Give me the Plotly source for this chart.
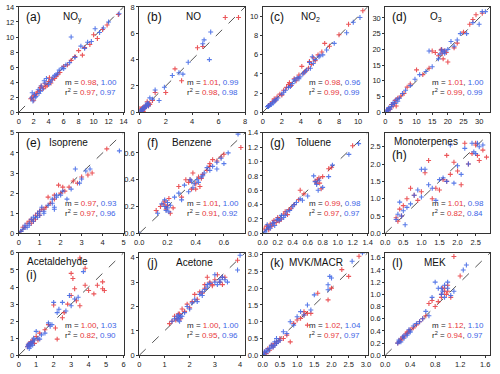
import plotly.graph_objects as go
from plotly.subplots import make_subplots

# panel names, labels, and fit stats
labels = ["(a)", "(b)", "(c)", "(d)", "(e)", "(f)", "(g)", "(h)", "(i)", "(j)", "(k)", "(l)"]
species = ["NO<sub>y</sub>", "NO", "NO<sub>2</sub>", "O<sub>3</sub>", "Isoprene", "Benzene", "Toluene",
           "Monoterpenes", "Acetaldehyde", "Acetone", "MVK/MACR", "MEK"]
title_x = [0.4, 0.42, 0.35, 0.41, 0.27, 0.29, 0.3, 0.06, 0.06, 0.33, 0.23, 0.35]
slope_red = ["0.98", "1.01", "0.98", "1.01", "0.97", "1.01", "0.99", "1.01", "1.00", "1.00", "1.02", "1.12"]
slope_blue = ["1.00", "0.99", "0.96", "1.00", "0.93", "1.00", "0.98", "0.98", "1.03", "1.00", "1.04", "1.10"]
r2_red = ["0.97", "0.98", "0.99", "0.99", "0.97", "0.91", "0.97", "0.82", "0.82", "0.95", "0.97", "0.94"]
r2_blue = ["0.97", "0.98", "0.99", "0.99", "0.96", "0.92", "0.97", "0.84", "0.90", "0.96", "0.97", "0.97"]

# axis ranges and tick steps
ax_max = [14, 8, 11, 33.5, 5, 0.75, 1.4, 2.9, 6, 4.2, 3.05, 1.68]
x_dtick = [2, 2, 2, 5, 1, 0.2, 0.2, 0.5, 1, 1, 0.5, 0.4]
y_dtick = [2, 2, 2, 5, 1, 0.2, 0.2, 0.5, 1, 1, 0.5, 0.2]
tick_fmt = ["", "", "", "", "", ".1f", ".1f", ".1f", "", "", ".1f", ".1f"]

# (a) NOy
a_rx = [1.6, 1.8, 2.0, 2.2, 2.5, 2.8, 3.0, 3.3, 3.5, 3.8, 4.0, 4.3, 4.5, 5.0, 5.5, 6.0, 6.5, 7.0, 7.5, 8.0, 8.5, 8.8, 9.5, 10.0, 10.5, 11.2, 11.8, 13.3, 2.0, 2.4, 2.9, 3.6, 4.1, 4.8, 5.2]
a_ry = [1.8, 2.0, 1.6, 2.3, 2.7, 2.9, 3.5, 3.2, 3.8, 3.6, 4.1, 3.9, 4.4, 4.8, 5.3, 6.1, 6.3, 6.9, 7.4, 8.2, 7.6, 8.6, 9.0, 10.3, 9.8, 11.0, 11.6, 13.0, 2.2, 2.5, 3.3, 3.4, 4.6, 4.5, 5.0]
a_bx = [1.7, 1.9, 2.1, 2.3, 2.6, 2.9, 3.2, 3.4, 3.7, 4.0, 4.2, 4.6, 5.0, 5.4, 5.8, 6.3, 6.8, 7.0, 7.5, 8.3, 8.8, 9.2, 9.7, 10.2, 10.8, 11.3, 12.0, 13.4, 1.8, 2.2, 2.7, 3.0, 3.5, 4.4, 4.8, 5.2, 6.0]
a_by = [1.9, 1.5, 2.4, 2.1, 3.0, 2.8, 3.1, 4.2, 4.5, 3.7, 4.0, 4.7, 5.0, 5.6, 5.9, 6.3, 6.6, 10.0, 7.3, 8.8, 8.5, 9.3, 9.4, 11.1, 10.6, 11.2, 12.0, 13.1, 2.6, 2.0, 2.5, 3.5, 3.9, 4.3, 4.9, 5.2, 5.8]
# (b) NO
b_rx = [0.05, 0.1, 0.15, 0.2, 0.25, 0.3, 0.4, 0.5, 0.6, 0.7, 0.8, 1.0, 1.2, 2.0, 2.7, 3.2, 4.4, 4.8, 6.5, 7.5, 0.1, 0.2, 0.35, 0.5, 0.75, 0.3]
b_ry = [0.3, 0.2, 0.1, 0.25, 0.35, 0.2, 0.3, 0.4, 0.8, 0.5, 0.6, 0.9, 1.5, 1.5, 3.3, 2.4, 4.9, 5.0, 7.2, 7.2, 0.15, 0.3, 0.35, 0.55, 0.7, 0.05]
b_bx = [0.05, 0.1, 0.15, 0.2, 0.25, 0.3, 0.35, 0.4, 0.5, 0.6, 0.7, 0.8, 1.0, 1.2, 1.5, 1.9, 2.5, 3.0, 3.3, 3.7, 4.8, 4.9, 5.3, 5.4, 0.1, 0.15, 0.2, 0.3, 0.4, 0.45, 0.55, 0.6, 0.65, 0.7]
b_by = [0.05, 0.1, 0.15, 0.2, 0.25, 0.3, 0.4, 0.35, 0.5, 0.7, 0.5, 1.1, 1.0, 1.7, 0.9, 1.9, 2.8, 3.0, 2.9, 3.8, 5.2, 5.5, 4.0, 6.1, 0.12, 0.08, 0.15, 0.25, 0.3, 0.45, 0.45, 0.55, 0.6, 0.65]
# (c) NO2
c_rx = [0.6, 0.8, 1.0, 1.3, 1.5, 1.8, 2.2, 2.5, 2.8, 3.0, 3.3, 3.5, 3.8, 4.1, 4.5, 4.8, 5.1, 5.3, 5.8, 6.2, 6.5, 7.0, 8.0, 9.0, 10.5, 1.2, 2.0, 2.7, 3.7, 4.3, 4.9, 5.5]
c_ry = [0.7, 0.9, 1.1, 1.2, 1.6, 1.9, 2.3, 2.6, 3.1, 2.8, 3.5, 3.3, 3.9, 4.8, 4.3, 4.6, 5.0, 5.7, 6.0, 6.3, 7.2, 6.9, 8.1, 9.2, 10.6, 1.4, 1.8, 2.9, 3.6, 4.1, 5.3, 5.4]
c_bx = [0.5, 0.6, 0.7, 0.9, 1.1, 1.3, 1.6, 2.0, 2.4, 2.7, 3.1, 3.4, 3.6, 3.9, 4.2, 4.6, 4.9, 5.2, 5.5, 5.9, 6.3, 6.7, 7.5, 8.8, 9.5, 10.2, 0.6, 0.8, 1.0, 1.2, 1.4, 2.2, 2.9, 3.3, 3.8, 4.4, 5.0, 5.3, 6.0]
c_by = [0.6, 0.7, 0.7, 0.8, 1.0, 1.3, 1.5, 1.9, 2.3, 2.6, 3.0, 3.3, 3.6, 3.7, 4.0, 4.4, 5.2, 5.8, 5.5, 5.8, 6.0, 6.5, 7.2, 8.3, 9.4, 9.9, 0.6, 0.8, 1.0, 1.1, 1.3, 2.1, 2.7, 3.4, 3.5, 4.2, 4.6, 5.1, 5.9]
# (d) O3
d_rx = [0.5, 1, 1.5, 2, 3, 3.5, 4, 5, 6, 7, 8, 10, 12, 14, 15, 16, 17, 18, 18.5, 19, 20, 22, 23, 25, 27, 28, 29, 31, 1, 2.5, 3.2, 17.8, 18.2, 19.5]
d_ry = [0.5, 1.2, 1.0, 2.5, 3.0, 2.0, 4.5, 5.2, 6.0, 8.0, 9.0, 13.5, 12.0, 14.0, 19.5, 19.0, 18.0, 20.0, 17.0, 19.5, 16.0, 20.5, 22.0, 25.5, 28.0, 29.5, 31.0, 31.5, 0.7, 2.0, 3.8, 19.8, 18.8, 19.0]
d_bx = [0.3, 0.8, 1.2, 2, 2.5, 3.5, 4.5, 5.5, 6.5, 8, 9.5, 11, 13, 14, 15, 17, 18, 19, 20, 21, 22, 23, 24, 26, 28, 30, 31, 32, 0.5, 1.0, 1.5, 2.2, 3, 4, 17.5, 18.5, 19]
d_by = [0.3, 0.6, 1.5, 1.8, 3.0, 4.0, 4.5, 6.0, 7.0, 8.5, 10.5, 12.0, 13.0, 19.5, 14.5, 17.0, 19.8, 19.5, 20.0, 22.5, 21.0, 23.0, 25.0, 25.0, 28.5, 28.0, 32.0, 32.0, 0.8, 0.9, 1.0, 2.5, 2.8, 3.5, 18.5, 19.2, 18.8]
# (e) Isoprene
e_rx = [0.1, 0.2, 0.3, 0.4, 0.5, 0.6, 0.7, 0.8, 0.9, 1.0, 1.1, 1.3, 1.4, 1.5, 1.7, 1.9, 2.0, 2.2, 2.4, 2.6, 2.8, 3.0, 3.3, 3.5, 4.2, 0.6, 0.8, 1.0, 1.2, 1.7, 2.1]
e_ry = [0.1, 0.3, 0.3, 0.5, 0.6, 0.7, 0.6, 0.9, 1.0, 1.1, 1.2, 1.3, 1.8, 1.5, 1.7, 2.4, 2.0, 2.1, 2.3, 2.6, 2.5, 2.8, 2.9, 3.0, 4.2, 0.5, 0.7, 0.9, 1.2, 1.9, 2.3]
e_bx = [0.1, 0.2, 0.3, 0.4, 0.5, 0.6, 0.7, 0.8, 0.9, 1.0, 1.1, 1.2, 1.4, 1.6, 1.7, 1.8, 2.0, 2.1, 2.3, 2.5, 2.7, 2.9, 3.0, 3.2, 3.4, 4.8, 0.3, 0.5, 0.7, 0.9, 1.0, 1.2, 1.6, 1.7, 1.8]
e_by = [0.1, 0.2, 0.4, 0.3, 0.5, 0.7, 0.8, 0.8, 1.0, 0.9, 1.3, 1.1, 1.4, 1.5, 1.3, 1.8, 1.9, 2.1, 1.7, 2.2, 3.2, 2.5, 2.7, 3.1, 3.2, 4.1, 0.3, 0.4, 0.6, 0.8, 1.1, 1.0, 1.7, 1.2, 1.9]
# (f) Benzene
f_rx = [0.12, 0.15, 0.18, 0.19, 0.2, 0.21, 0.22, 0.24, 0.28, 0.3, 0.33, 0.35, 0.37, 0.38, 0.40, 0.42, 0.43, 0.45, 0.48, 0.5, 0.52, 0.55, 0.58, 0.6, 0.72, 0.17, 0.19, 0.36, 0.4, 0.44, 0.5]
f_ry = [0.17, 0.2, 0.24, 0.18, 0.21, 0.26, 0.15, 0.19, 0.35, 0.27, 0.4, 0.38, 0.33, 0.45, 0.37, 0.42, 0.35, 0.44, 0.47, 0.5, 0.55, 0.54, 0.57, 0.59, 0.64, 0.22, 0.2, 0.4, 0.33, 0.41, 0.52]
f_bx = [0.0, 0.13, 0.16, 0.18, 0.19, 0.2, 0.22, 0.25, 0.28, 0.3, 0.32, 0.35, 0.37, 0.39, 0.41, 0.44, 0.46, 0.48, 0.5, 0.52, 0.55, 0.58, 0.6, 0.63, 0.7, 0.18, 0.2, 0.21, 0.36, 0.38, 0.42, 0.45, 0.55]
f_by = [0.0, 0.15, 0.22, 0.25, 0.17, 0.19, 0.21, 0.27, 0.3, 0.25, 0.36, 0.31, 0.39, 0.37, 0.4, 0.42, 0.45, 0.49, 0.47, 0.5, 0.53, 0.56, 0.52, 0.6, 0.74, 0.2, 0.23, 0.16, 0.4, 0.34, 0.38, 0.43, 0.48]
# (g) Toluene
g_rx = [0.02, 0.05, 0.08, 0.1, 0.12, 0.15, 0.18, 0.2, 0.25, 0.3, 0.33, 0.38, 0.42, 0.48, 0.5, 0.55, 0.7, 0.72, 0.75, 0.78, 0.8, 0.88, 0.92, 1.2, 0.07, 0.14, 0.22, 0.28, 0.35, 0.73, 0.76]
g_ry = [0.06, 0.1, 0.05, 0.13, 0.1, 0.18, 0.15, 0.22, 0.2, 0.3, 0.26, 0.35, 0.4, 0.47, 0.6, 0.55, 0.73, 0.7, 0.77, 0.62, 0.79, 0.9, 0.92, 1.22, 0.09, 0.14, 0.17, 0.27, 0.33, 0.75, 0.7]
g_bx = [0.03, 0.06, 0.08, 0.1, 0.13, 0.16, 0.19, 0.22, 0.25, 0.28, 0.32, 0.36, 0.4, 0.45, 0.5, 0.53, 0.6, 0.68, 0.72, 0.75, 0.8, 0.88, 0.93, 1.15, 1.28, 0.05, 0.1, 0.15, 0.2, 0.24, 0.3, 0.42, 0.7, 0.74]
g_by = [0.02, 0.12, 0.08, 0.1, 0.14, 0.11, 0.19, 0.18, 0.25, 0.22, 0.3, 0.32, 0.37, 0.43, 0.48, 0.46, 0.52, 0.8, 0.68, 0.74, 0.64, 0.79, 0.95, 1.1, 1.25, 0.05, 0.07, 0.15, 0.2, 0.2, 0.25, 0.4, 0.72, 0.6]
# (h) Monoterpenes
h_rx = [0.3, 0.35, 0.4, 0.45, 0.5, 0.6, 0.7, 0.8, 0.9, 1.0, 1.1, 1.2, 1.3, 1.5, 1.6, 1.7, 1.8, 1.9, 2.0, 2.1, 2.2, 2.3, 2.4, 2.5, 2.6, 2.7, 2.8, 1.4, 1.7, 2.5, 2.55]
h_ry = [0.45, 0.35, 0.7, 0.5, 0.8, 1.0, 1.3, 1.1, 0.95, 1.2, 1.75, 2.1, 1.0, 1.25, 1.55, 2.25, 1.7, 2.05, 1.8, 1.4, 2.6, 2.0, 2.3, 2.55, 2.1, 2.4, 2.2, 1.3, 1.5, 2.6, 2.25]
h_bx = [0.3, 0.35, 0.4, 0.5, 0.55, 0.6, 0.7, 0.8, 0.9, 1.0, 1.1, 1.2, 1.3, 1.4, 1.5, 1.6, 1.8, 1.9, 2.0, 2.1, 2.2, 2.3, 2.4, 2.5, 2.6, 2.7, 0.45, 1.0, 1.7, 2.45, 2.55]
h_by = [0.4, 0.55, 0.9, 0.65, 0.25, 0.75, 0.85, 1.1, 1.25, 1.05, 1.85, 1.4, 1.3, 0.95, 1.55, 1.6, 2.55, 1.45, 1.95, 1.7, 2.45, 2.0, 2.6, 2.3, 2.5, 2.55, 0.5, 1.85, 1.5, 2.35, 2.6]
# (i) Acetaldehyde
i_rx = [0.5, 0.6, 0.65, 0.7, 0.8, 0.9, 1.0, 1.2, 1.5, 1.7, 2.0, 2.1, 2.2, 2.5, 2.8, 3.0, 3.1, 3.2, 3.3, 3.5, 3.5, 3.8, 3.8, 4.0, 4.3, 4.5, 4.8, 4.8, 4.9, 0.55, 0.75, 1.1, 2.6, 3.0]
i_ry = [0.5, 0.7, 0.6, 0.8, 0.9, 0.7, 1.1, 1.3, 1.5, 1.8, 2.95, 1.6, 0.95, 2.2, 3.0, 4.8, 4.5, 3.9, 3.2, 2.9, 5.7, 5.1, 4.1, 3.8, 3.6, 4.1, 3.9, 4.3, 3.8, 0.6, 0.75, 0.9, 2.5, 3.5]
i_bx = [0.5, 0.55, 0.6, 0.65, 0.7, 0.8, 0.9, 1.0, 1.1, 1.3, 1.5, 1.7, 1.9, 2.0, 2.2, 2.5, 2.7, 3.0, 3.2, 3.4, 3.7, 0.55, 0.6, 0.65, 0.7, 0.75, 0.8, 0.85, 1.2, 1.8, 2.3, 2.9]
i_by = [0.5, 0.6, 0.4, 0.7, 0.6, 0.8, 0.9, 1.4, 1.0, 1.2, 1.3, 1.9, 1.8, 3.1, 2.5, 3.1, 2.6, 2.9, 3.3, 3.4, 4.9, 0.65, 0.55, 0.5, 0.75, 0.7, 0.6, 1.0, 0.95, 1.7, 2.7, 3.5]
# (j) Acetone
j_rx = [1.2, 1.3, 1.4, 1.5, 1.6, 1.7, 1.8, 1.9, 2.0, 2.1, 2.2, 2.3, 2.4, 2.5, 2.6, 2.7, 2.8, 2.9, 3.0, 3.1, 3.2, 3.3, 3.4, 3.9, 1.45, 1.55, 1.65, 2.6, 2.9, 3.3]
j_ry = [1.3, 1.4, 1.6, 1.5, 1.7, 1.9, 1.8, 2.1, 1.95, 2.2, 2.5, 2.3, 2.6, 2.55, 2.9, 3.2, 3.0, 2.85, 3.1, 3.3, 3.0, 2.9, 3.2, 3.9, 1.45, 1.7, 1.5, 2.75, 2.9, 3.2]
j_bx = [1.3, 1.4, 1.5, 1.55, 1.6, 1.7, 1.8, 1.9, 2.0, 2.1, 2.2, 2.3, 2.4, 2.5, 2.6, 2.7, 2.8, 3.0, 3.1, 3.2, 3.3, 3.4, 3.5, 3.9, 4.0, 1.5, 1.55, 1.6, 1.65, 2.5, 2.7, 3.0, 3.2, 3.3]
j_by = [1.4, 1.5, 1.6, 1.45, 1.55, 1.6, 1.75, 2.0, 1.9, 2.15, 2.3, 2.2, 2.5, 2.45, 2.7, 2.8, 2.95, 3.3, 2.9, 3.0, 3.2, 3.1, 3.0, 3.5, 4.1, 1.5, 1.65, 1.4, 1.6, 2.6, 2.9, 3.0, 3.1, 3.2]
# (k) MVK/MACR
k_rx = [0.05, 0.1, 0.15, 0.2, 0.25, 0.3, 0.35, 0.4, 0.5, 0.6, 0.7, 0.8, 0.9, 1.0, 1.1, 1.2, 1.3, 1.4, 1.6, 1.9, 2.0, 2.3, 2.5, 2.8, 0.3, 0.4, 0.5, 1.2, 1.3]
k_ry = [0.1, 0.05, 0.2, 0.15, 0.3, 0.25, 0.35, 0.4, 0.45, 0.5, 0.6, 0.4, 0.95, 1.05, 1.1, 1.3, 0.9, 1.25, 1.85, 1.65, 2.0, 2.55, 2.35, 2.95, 0.3, 0.35, 0.5, 1.2, 1.25]
k_bx = [0.02, 0.05, 0.1, 0.15, 0.2, 0.25, 0.3, 0.35, 0.4, 0.5, 0.6, 0.7, 0.8, 0.9, 1.0, 1.1, 1.2, 1.3, 1.4, 1.5, 1.9, 1.95, 2.0, 2.6, 2.9, 0.1, 0.2, 0.3, 0.35, 0.4, 0.45, 1.9]
k_by = [0.02, 0.1, 0.15, 0.12, 0.22, 0.3, 0.28, 0.4, 0.5, 0.45, 0.7, 0.65, 1.0, 0.9, 1.15, 1.3, 1.2, 1.5, 1.35, 1.8, 2.1, 2.35, 2.3, 2.8, 3.05, 0.1, 0.2, 0.25, 0.3, 0.35, 0.4, 1.95]
# (l) MEK
l_rx = [0.2, 0.22, 0.25, 0.28, 0.3, 0.33, 0.35, 0.38, 0.4, 0.45, 0.5, 0.55, 0.6, 0.65, 0.7, 0.75, 0.8, 0.85, 0.9, 0.92, 0.95, 0.98, 1.0, 1.05, 1.1, 1.2, 0.25, 0.35, 0.9, 0.95, 1.0]
l_ry = [0.2, 0.22, 0.25, 0.3, 0.3, 0.35, 0.38, 0.4, 0.42, 0.45, 0.5, 0.55, 0.6, 0.65, 0.85, 0.9, 0.8, 0.88, 0.95, 1.1, 1.05, 1.0, 1.15, 0.95, 1.62, 1.3, 0.27, 0.36, 1.0, 1.1, 1.05]
l_bx = [0.2, 0.22, 0.25, 0.28, 0.3, 0.35, 0.38, 0.4, 0.45, 0.5, 0.55, 0.6, 0.65, 0.7, 0.75, 0.8, 0.85, 0.9, 0.95, 1.0, 1.05, 1.1, 1.25, 1.3, 0.22, 0.3, 0.35, 0.4, 0.9, 0.92, 0.95, 1.0]
l_by = [0.2, 0.25, 0.22, 0.3, 0.32, 0.35, 0.42, 0.4, 0.48, 0.52, 0.55, 0.6, 0.72, 0.65, 0.95, 1.2, 1.1, 1.0, 1.15, 1.2, 0.98, 1.05, 1.4, 1.48, 0.22, 0.28, 0.33, 0.38, 1.1, 1.05, 0.95, 1.1]

panels = [(a_rx, a_ry, a_bx, a_by), (b_rx, b_ry, b_bx, b_by), (c_rx, c_ry, c_bx, c_by), (d_rx, d_ry, d_bx, d_by),
          (e_rx, e_ry, e_bx, e_by), (f_rx, f_ry, f_bx, f_by), (g_rx, g_ry, g_bx, g_by), (h_rx, h_ry, h_bx, h_by),
          (i_rx, i_ry, i_bx, i_by), (j_rx, j_ry, j_bx, j_by), (k_rx, k_ry, k_bx, k_by), (l_rx, l_ry, l_bx, l_by)]

RED = "rgb(232,56,60)"
BLUE = "rgb(60,100,230)"
FONT = "Liberation Sans"

fig = make_subplots(rows=3, cols=4)

# pixel layout of the panels (500x374 canvas)
col_px = [(14, 121), (137, 245), (263, 370), (388, 495)]
row_px = [(3, 111), (132, 235), (255, 360)]

for n, (rx, ry, bx, by) in enumerate(panels):
    r, c = n // 4 + 1, n % 4 + 1
    top = ax_max[n]
    fig.add_trace(go.Scatter(x=[0, top], y=[0, top], mode="lines",
                             line=dict(color="#555", width=1, dash="dash"), showlegend=False), row=r, col=c)
    fig.add_trace(go.Scatter(x=rx, y=ry, mode="markers", opacity=0.85, showlegend=False,
                             marker=dict(symbol="cross-thin", size=3.5, line=dict(color=RED, width=1.1))),
                  row=r, col=c)
    fig.add_trace(go.Scatter(x=bx, y=by, mode="markers", opacity=0.85, showlegend=False,
                             marker=dict(symbol="cross-thin", size=3.5, line=dict(color=BLUE, width=1.1))),
                  row=r, col=c)

    ax = dict(range=[0, top], showline=True, linecolor="#333", linewidth=1, mirror=True,
              ticks="outside", ticklen=2, tickcolor="#333", showgrid=False, zeroline=False,
              tickfont=dict(size=7.5, family=FONT, color="#222"), tickformat=tick_fmt[n])
    x0, x1 = col_px[c - 1]
    y0, y1 = row_px[r - 1]
    fig.update_xaxes(ax, dtick=x_dtick[n], domain=[x0 / 500, x1 / 500], row=r, col=c)
    fig.update_yaxes(ax, dtick=y_dtick[n], domain=[1 - y1 / 374, 1 - y0 / 374], row=r, col=c)

    suf = "" if n == 0 else str(n + 1)
    xr, yr = "x" + suf + " domain", "y" + suf + " domain"
    if n in (7, 8):
        fig.add_annotation(xref=xr, yref=yr, x=title_x[n], y=0.99, text=species[n], showarrow=False,
                           xanchor="left", yanchor="top", font=dict(size=10, family=FONT, color="#111"))
        fig.add_annotation(xref=xr, yref=yr, x=0.05, y=0.87, text=labels[n], showarrow=False,
                           xanchor="left", yanchor="top", font=dict(size=12, family=FONT, color="#111"))
    else:
        fig.add_annotation(xref=xr, yref=yr, x=0.05, y=0.99, text=labels[n], showarrow=False,
                           xanchor="left", yanchor="top", font=dict(size=12, family=FONT, color="#111"))
        fig.add_annotation(xref=xr, yref=yr, x=title_x[n], y=0.98, text=species[n], showarrow=False,
                           xanchor="left", yanchor="top", font=dict(size=10, family=FONT, color="#111"))
    stats = ("m = <span style='color:%s'>%s</span>, <span style='color:%s'>%s</span><br>"
             "r<sup>2</sup> = <span style='color:%s'>%s</span>, <span style='color:%s'>%s</span>"
             % (RED, slope_red[n], BLUE, slope_blue[n], RED, r2_red[n], BLUE, r2_blue[n]))
    fig.add_annotation(xref=xr, yref=yr, x=0.96, y=0.13, text=stats, showarrow=False, align="left",
                       xanchor="right", yanchor="bottom", font=dict(size=8, family=FONT, color="#222"))

fig.update_layout(width=500, height=374, margin=dict(l=0, r=0, t=0, b=0),
                  paper_bgcolor="white", plot_bgcolor="white")
# page body has a default 8px margin; remove it so the figure sits at the window corner
fig.write_html("out.html", config={"displayModeBar": False},
               post_script="document.body.style.margin='0';")
